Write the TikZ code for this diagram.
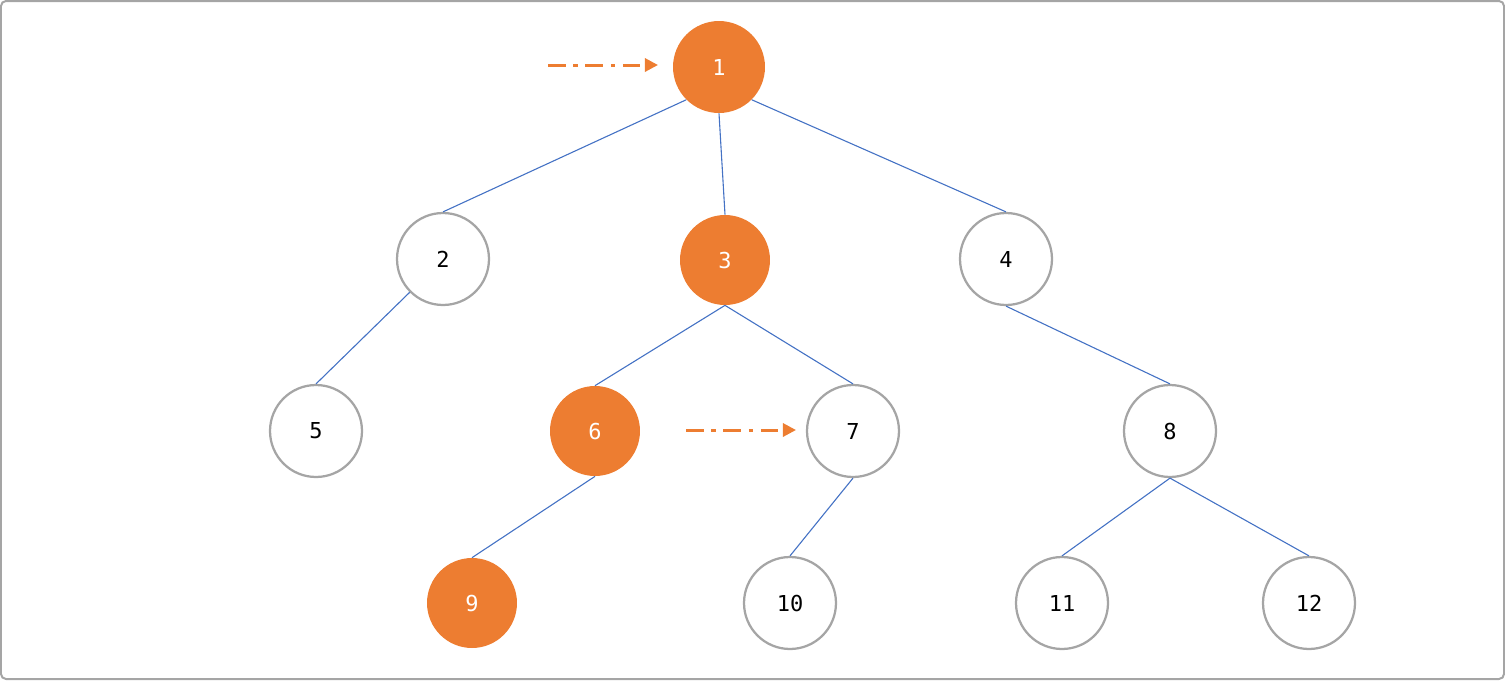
\documentclass[tikz,border=0pt]{standalone}
\usepackage{fontspec}
\setmonofont{DejaVu Sans Mono}
\usepackage{tikz}
\usetikzlibrary{arrows.meta}
\definecolor{hot}{HTML}{ED7D31}
\definecolor{edge}{HTML}{4472C4}
\definecolor{rim}{HTML}{A5A5A5}
\tikzset{
  px/.style={x=0.02cm,y=-0.02cm},
  vtx/.style={circle,draw=rim,line width=0.045cm,fill=white,minimum size=1.84cm,inner sep=0pt,font=\ttfamily\fontsize{12.5}{14}\selectfont},
  hotvtx/.style={circle,fill=hot,minimum size=1.8cm,inner sep=0pt,text=white,font=\ttfamily\fontsize{12.5}{14}\selectfont},
  link/.style={draw=edge,line width=0.022cm},
  ptr/.style={draw=hot,line width=0.06cm,dash pattern=on 10pt off 4.5pt on 2.3pt off 4.5pt,-{Triangle[length=7.5pt,width=7.5pt]}}}
\begin{document}
\begin{tikzpicture}[px]
\useasboundingbox (0,0) rectangle (1505,680);
\draw[rim,line width=0.04cm,rounded corners=0.1cm] (1,1) rectangle (1504,679);
% levels
\node[hotvtx,minimum size=1.84cm] (n1) at (719,67) {1};
\node[vtx] (n2) at (443,259) {2};
\node[hotvtx] (n3) at (725,260) {3};
\node[vtx] (n4) at (1006,259) {4};
\node[vtx] (n5) at (316,431) {5};
\node[hotvtx] (n6) at (595,431) {6};
\node[vtx] (n7) at (853,431) {7};
\node[vtx] (n8) at (1170,431) {8};
\node[hotvtx] (n9) at (472,603) {9};
\node[vtx] (n10) at (790,603) {10};
\node[vtx] (n11) at (1062,603) {11};
\node[vtx] (n12) at (1309,603) {12};
% edges
\draw[link] (n1.south west) -- (n2.north); \draw[link] (n1.south) -- (n3.north); \draw[link] (n1.south east) -- (n4.north);
\draw[link] (n2.south west) -- (n5.north);
\draw[link] (n3.south) -- (n6.north); \draw[link] (n3.south) -- (n7.north);
\draw[link] (n4.south) -- (n8.north);
\draw[link] (n6.south) -- (n9.north);
\draw[link] (n7.south) -- (n10.north);
\draw[link] (n8.south) -- (n11.north); \draw[link] (n8.south) -- (n12.north);
% pointers
\coordinate (p1) at (548,65); \coordinate (q1) at (658,65);
\coordinate (p2) at (686,430); \coordinate (q2) at (796,430);
\draw[ptr] (p1) -- (q1);
\draw[ptr] (p2) -- (q2);
\end{tikzpicture}
\end{document}
